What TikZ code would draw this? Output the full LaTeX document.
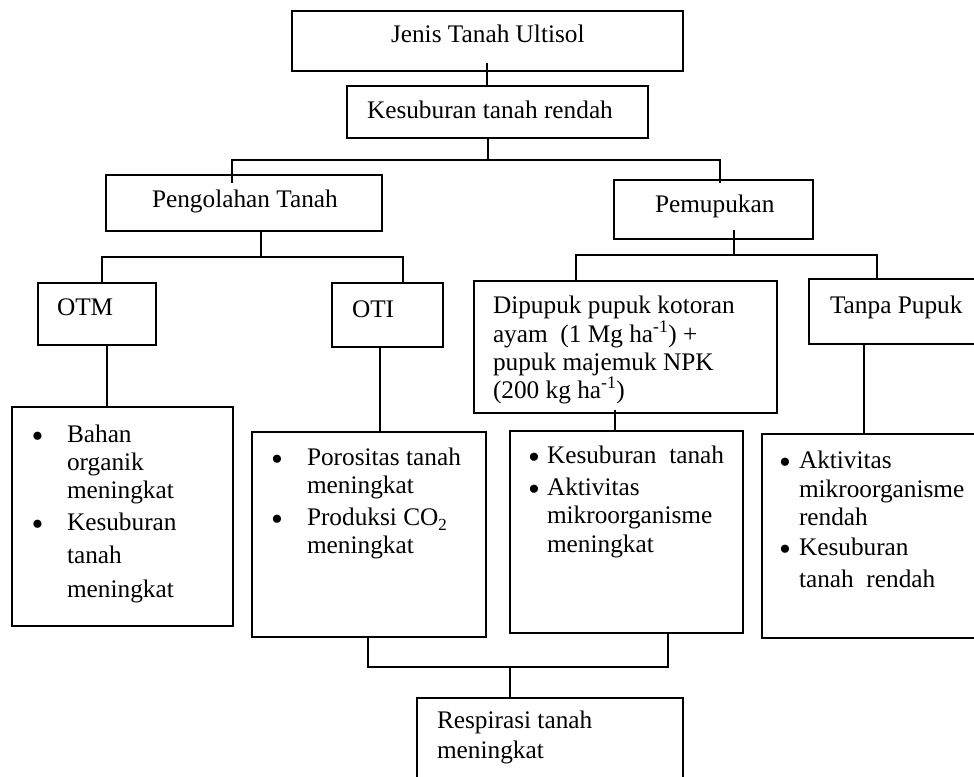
\documentclass[tikz,border=0pt]{standalone}
\usepackage{fontspec}
\setmainfont{Liberation Serif}
\usetikzlibrary{calc}
\tikzset{
  box/.style={draw, line width=1.4pt, inner sep=0pt, outer sep=0pt},
  conn/.style={line width=1.4pt},
  thickconn/.style={line width=2.4pt},
  txt/.style={anchor=base west, inner sep=0pt, outer sep=0pt, font=\fontsize{25.3}{30}\selectfont},
  bul/.style={anchor=base west, inner sep=0pt, outer sep=0pt, font=\fontsize{34}{34}\selectfont}
}
\newcommand\mytext[4]{\node[txt] (#1) at (#2,#3) {#4};}
\newcommand\mybul[3]{\node[bul] (#1) at ({#2-6},#3) {\raisebox{-5pt}{\textbullet}};}
\newcommand\mysub[1]{\raisebox{-5pt}{\fontsize{17}{17}\selectfont #1}}
\begin{document}
\begin{tikzpicture}[x=1pt,y=-1pt]
\useasboundingbox (0,0) rectangle (974,776);
\clip (0,0) rectangle (974,776);
% boxes
\node[box, minimum width=391pt, minimum height=60pt] (jenis) at (487.5,41) {};
\node[box, minimum width=301pt, minimum height=52pt] (kes) at (497.5,112) {};
\node[box, minimum width=276pt, minimum height=56pt] (peng) at (244,203) {};
\node[box, minimum width=199pt, minimum height=59pt] (pemu) at (713.5,209.5) {};
\node[box, minimum width=118pt, minimum height=62pt] (otm) at (97,314) {};
\node[box, minimum width=111pt, minimum height=64pt] (oti) at (387.5,315) {};
\node[box, minimum width=303pt, minimum height=132pt] (dip) at (625.5,347) {};
\node[box, minimum width=191pt, minimum height=65pt] (tanpa) at (904.5,311.5) {};
\node[box, minimum width=221pt, minimum height=219pt] (otmL) at (122.5,516.5) {};
\node[box, minimum width=234pt, minimum height=205pt] (otiL) at (369,534.5) {};
\node[box, minimum width=233pt, minimum height=202pt] (dipL) at (626.5,532) {};
\node[box, minimum width=238pt, minimum height=204pt] (tanpaL) at (881,536) {};
\node[box, minimum width=266pt, minimum height=102pt] (resp) at (550,749) {};
% junction coordinates
\coordinate (k0) at (487,0);
\coordinate (k1) at (488,160);
\coordinate (kL) at (232,160);
\coordinate (kR) at (720,160);
\coordinate (p1) at (261,257);
\coordinate (pL) at (102,257);
\coordinate (pR) at (403,257);
\coordinate (m1) at (734,255);
\coordinate (mL) at (576,255);
\coordinate (mR) at (877,255);
\coordinate (a1) at (107,0);
\coordinate (a2) at (380,0);
\coordinate (a3) at (615,0);
\coordinate (a4) at (864,0);
\coordinate (r1) at (368,667);
\coordinate (r2) at (668,667);
\coordinate (r3) at (510,667);
% connectors
\draw[conn] ($(jenis.south -| k0)+(0,-8)$) -- (kes.north -| k0);
\draw[thickconn] (kes.south -| k1) -- (k1);
\draw[conn] ($(peng.north -| kL)+(0,8)$) -- (kL) -- (kR) -- ($(pemu.north -| kR)+(0,3)$);
\draw[thickconn] (peng.south -| p1) -- (p1);
\draw[conn] (otm.north -| pL) -- (pL) -- (pR) -- (oti.north -| pR);
\draw[conn] ($(pemu.south -| m1)+(0,-9)$) -- (m1);
\draw[conn] (dip.north -| mL) -- (mL) -- (mR) -- (tanpa.north -| mR);
\draw[conn] (otm.south -| a1) -- (otmL.north -| a1);
\draw[conn] (oti.south -| a2) -- (otiL.north -| a2);
\draw[conn] ($(dip.south -| a3)+(0,-3)$) -- (dipL.north -| a3);
\draw[conn] (tanpa.south -| a4) -- (tanpaL.north -| a4);
\draw[conn] (otiL.south -| r1) -- (r1) -- (r2) -- (dipL.south -| r2);
\draw[conn] (r3) -- (resp.north -| r3);
% texts
\mytext{tjenis}{391}{43}{Jenis Tanah Ultisol}
\mytext{tkes}{367}{118}{Kesuburan tanah rendah}
\mytext{tpeng}{152}{207}{Pengolahan Tanah}
\mytext{tpemu}{655}{212}{Pemupukan}
\mytext{totm}{57}{315}{OTM}
\mytext{toti}{352}{317}{OTI}
\mytext{tdipa}{493}{313}{Dipupuk pupuk kotoran}
\mytext{tdipb}{493}{342}{ayam\ \ (1 Mg ha\textsuperscript{-1}) +}
\mytext{tdipc}{493}{370}{pupuk majemuk NPK}
\mytext{tdipd}{493}{398}{(200 kg ha\textsuperscript{-1})}
\mytext{ttanpa}{830}{313}{Tanpa Pupuk}
% OTM list
\mybul{bo1}{37.5}{442}
\mybul{bo2}{37.5}{530}
\mytext{to1}{67}{442}{Bahan}
\mytext{to2}{67}{470}{organik}
\mytext{to3}{67}{498}{meningkat}
\mytext{to4}{67}{530}{Kesuburan}
\mytext{to5}{67}{563}{tanah}
\mytext{to6}{67}{597}{meningkat}
% OTI list
\mybul{bi1}{277}{465}
\mybul{bi2}{277}{525}
\mytext{ti1}{307}{465}{Porositas tanah}
\mytext{ti2}{307}{493}{meningkat}
\mytext{ti3}{307}{525}{Produksi CO\mysub{2}}
\mytext{ti4}{307}{553}{meningkat}
% Dipupuk list
\mybul{bd1}{534}{463}
\mybul{bd2}{534}{495}
\mytext{td1}{547}{463}{Kesuburan\ \ tanah}
\mytext{td2}{547}{495}{Aktivitas}
\mytext{td3}{547}{523}{mikroorganisme}
\mytext{td4}{547}{552}{meningkat}
% Tanpa list
\mybul{bt1}{785}{468}
\mybul{bt2}{785}{555}
\mytext{tt1}{799}{468}{Aktivitas}
\mytext{tt2}{799}{497}{mikroorganisme}
\mytext{tt3}{799}{525}{rendah}
\mytext{tt4}{799}{555}{Kesuburan}
\mytext{tt5}{799}{587}{tanah\ \ rendah}
% Respirasi
\mytext{tr1}{437}{728}{Respirasi tanah}
\mytext{tr2}{437}{758}{meningkat}
\end{tikzpicture}
\end{document}
